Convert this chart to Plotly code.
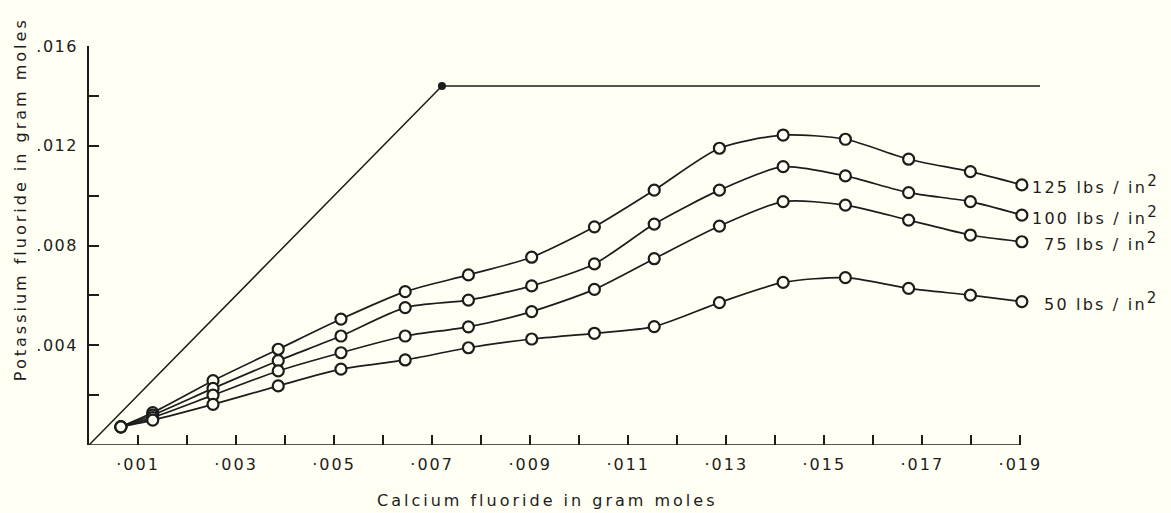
import plotly.graph_objects as go

# Calcium fluoride added (gram moles) at each sampling step
calcium_fluoride = [0.00065, 0.0013, 0.00253, 0.00386, 0.00514, 0.00645, 0.00774, 0.00903,
                    0.01031, 0.01153, 0.01286, 0.01416, 0.01543, 0.01672, 0.01798, 0.01903]

# Potassium fluoride formed (gram moles) at each pressure
kf_125 = [0.00073, 0.00130, 0.00258, 0.00384, 0.00505, 0.00615, 0.00682, 0.00753,
          0.00875, 0.01022, 0.01190, 0.01243, 0.01226, 0.01146, 0.01096, 0.01043]
kf_100 = [0.00073, 0.00120, 0.00227, 0.00338, 0.00437, 0.00551, 0.00581, 0.00638,
          0.00726, 0.00886, 0.01022, 0.01116, 0.01079, 0.01012, 0.00976, 0.00922]
kf_75 = [0.00073, 0.00110, 0.00200, 0.00297, 0.00370, 0.00437, 0.00474, 0.00535,
         0.00624, 0.00747, 0.00878, 0.00976, 0.00962, 0.00902, 0.00842, 0.00815]
kf_50 = [0.00073, 0.00100, 0.00163, 0.00237, 0.00304, 0.00341, 0.00390, 0.00425,
         0.00448, 0.00475, 0.00571, 0.00652, 0.00671, 0.00628, 0.00601, 0.00575]

pressure_labels = ["125 lbs / in", "100 lbs / in", "75 lbs / in", "50 lbs / in"]
series_values = [kf_125, kf_100, kf_75, kf_50]
label_shift = [8, 8, 20, 20]

# Theoretical limit: 2 KF per CaF2 up to the available potassium, then flat
limit_x = [0.0, 0.0072, 0.0194]
limit_y = [0.0, 0.0144, 0.0144]

# Axis ticks: labelled majors on odd thousandths (x) and every .004 (y)
x_major = [i / 1000 for i in range(1, 20, 2)]
x_minor = [i / 1000 for i in range(2, 20, 2)]
y_major = [i / 1000 for i in range(4, 17, 4)]
y_minor = [i / 1000 for i in range(2, 17, 4)]

INK = "#1c1c1c"
PAPER = "#fffff3"
FONT = "DejaVu Sans"


def spaced(text, px):
    return '<span style="letter-spacing:%spx">%s</span>' % (px, text)


x_labels = [spaced("·%03d" % round(v * 1000), 2) for v in x_major]
y_labels = [spaced(".%03d" % round(v * 1000), 1.5) for v in y_major]
squared = '<sup><span style="font-size:15px">2</span></sup>'

fig = go.Figure()

fig.add_trace(go.Scatter(
    x=limit_x, y=limit_y, mode="lines",
    line=dict(color=INK, width=1.5), hoverinfo="skip", showlegend=False,
))
fig.add_trace(go.Scatter(
    x=[limit_x[1]], y=[limit_y[1]], mode="markers",
    marker=dict(size=8, color=INK, symbol="circle"), showlegend=False,
))

for name, values, shift in zip(pressure_labels, series_values, label_shift):
    fig.add_trace(go.Scatter(
        x=calcium_fluoride, y=values, mode="lines+markers", name=name,
        line=dict(color=INK, width=1.7, shape="spline", smoothing=0.7),
        marker=dict(size=11, color=PAPER, line=dict(color=INK, width=2.2)),
        showlegend=False,
    ))
    fig.add_annotation(
        x=calcium_fluoride[-1], y=values[-1], xref="x", yref="y",
        text=spaced(name, 2.2) + squared, showarrow=False,
        xanchor="left", yanchor="middle", xshift=shift,
        font=dict(family=FONT, size=16, color=INK),
    )

# x-axis baseline, ending at the last tick
fig.add_shape(type="line", xref="x", yref="y", x0=0, x1=x_major[-1], y0=0, y1=0,
              line=dict(color=INK, width=1.7), layer="below")

fig.add_annotation(
    text=spaced("Calcium fluoride in gram moles", 3), xref="paper", yref="paper",
    x=0.482, y=-0.138, xanchor="center", yanchor="middle", showarrow=False,
    font=dict(family=FONT, size=16, color=INK),
)
fig.add_annotation(
    text=spaced("Potassium fluoride in gram moles", 3), xref="paper", yref="paper",
    x=-0.072, y=0.615, xanchor="center", yanchor="middle", textangle=-90,
    showarrow=False, font=dict(family=FONT, size=16, color=INK),
)

tick_style = dict(ticks="inside", ticklen=10, tickwidth=1.5, tickcolor=INK)

fig.update_xaxes(
    range=[0, 0.0194], showgrid=False, zeroline=False, showline=False,
    tickmode="array", tickvals=x_major, ticktext=x_labels,
    ticklabelstandoff=8,
    minor=dict(tickmode="array", tickvals=x_minor, **tick_style),
    tickfont=dict(family=FONT, size=16, color=INK),
    **tick_style,
)
fig.update_yaxes(
    range=[0, 0.016], showgrid=False, zeroline=False,
    showline=True, linecolor=INK, linewidth=1.7,
    tickmode="array", tickvals=y_major, ticktext=y_labels,
    ticklabelstandoff=6,
    minor=dict(tickmode="array", tickvals=y_minor, **tick_style),
    tickfont=dict(family=FONT, size=16, color=INK),
    **tick_style,
)

fig.update_layout(
    width=1171, height=513,
    margin=dict(l=89, r=131, t=46, b=68),
    paper_bgcolor=PAPER, plot_bgcolor=PAPER,
    showlegend=False,
)

fig.write_html("out.html")
